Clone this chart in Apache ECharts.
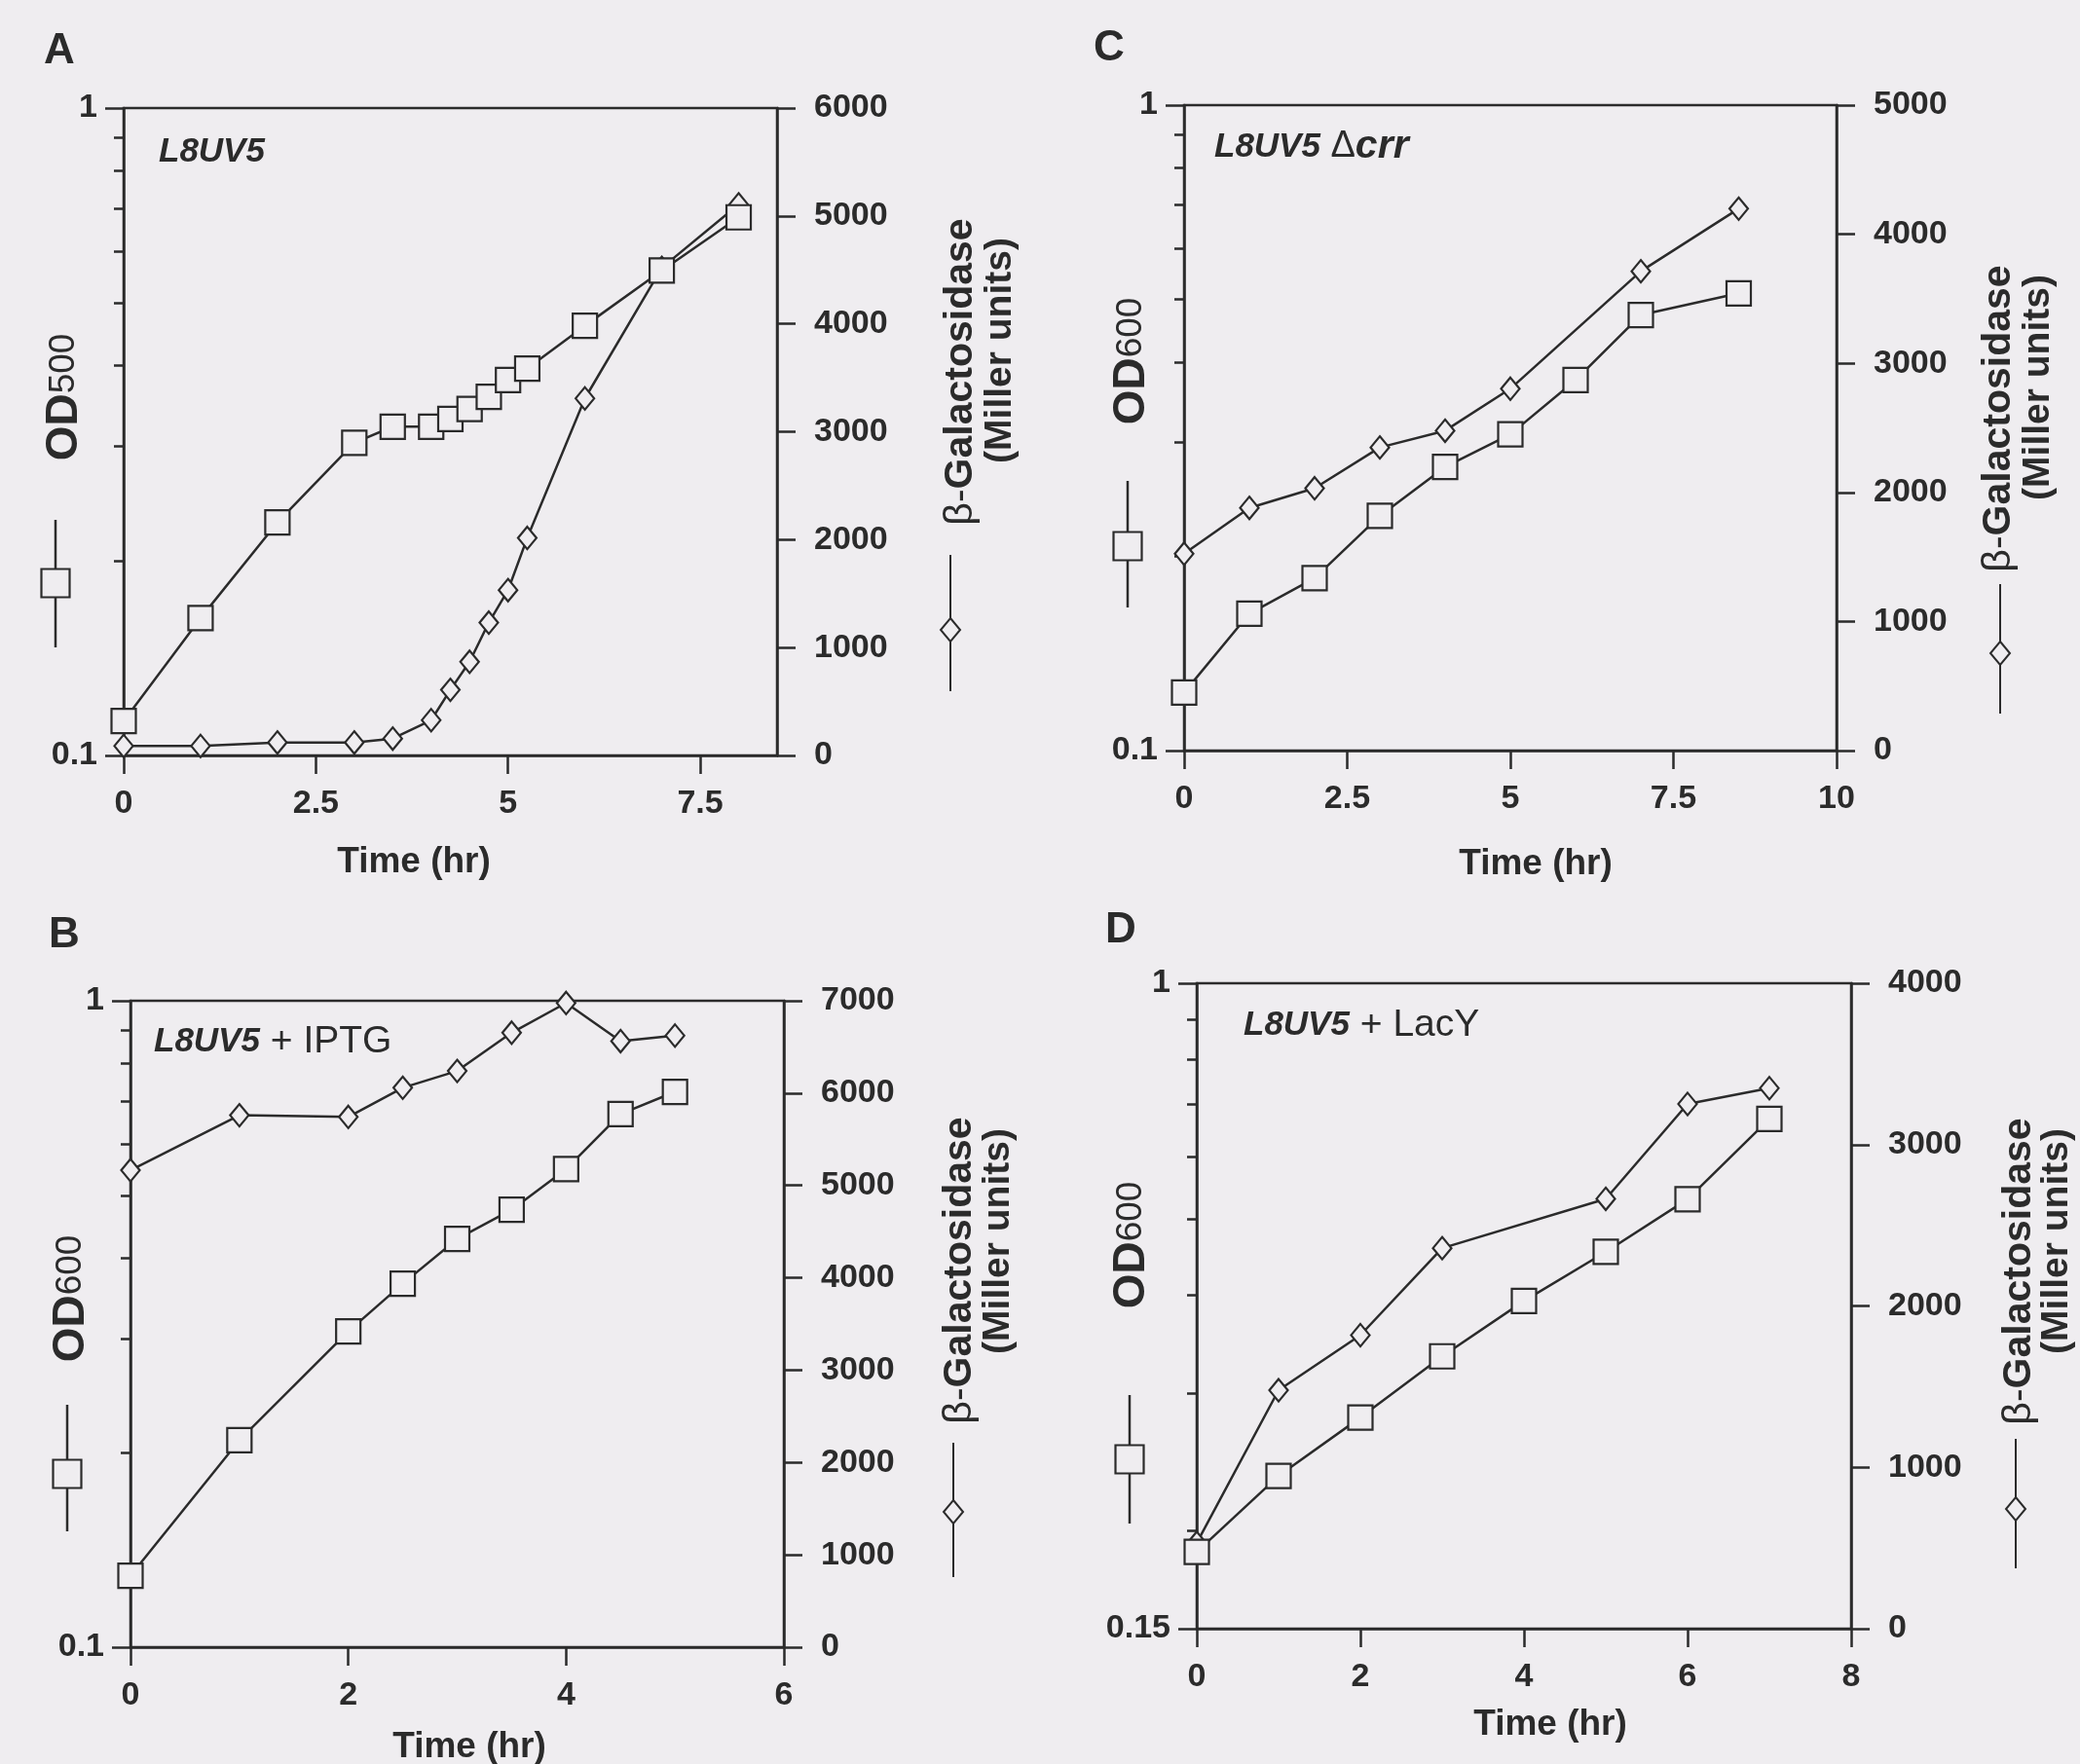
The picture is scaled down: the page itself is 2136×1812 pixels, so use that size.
<!DOCTYPE html>
<html>
<head>
<meta charset="utf-8">
<title>L8UV5 growth and beta-galactosidase</title>
<script src="https://cdn.jsdelivr.net/npm/echarts@6/dist/echarts.min.js"></script>
<style>
  html, body { margin: 0; padding: 0; background: #efedf0; }
  #chart { width: 2136px; height: 1812px; }
</style>
</head>
<body>
<div id="chart"></div>
<script>
// A: L8UV5
const timeA = [0, 1, 2, 3, 3.5, 4, 4.25, 4.5, 4.75, 5, 5.25, 6, 7, 8]
const odA = [0.113, 0.163, 0.229, 0.304, 0.322, 0.322, 0.331, 0.343, 0.358, 0.38, 0.396, 0.461, 0.561, 0.678]
const galA = [88, 88, 120, 120, 156, 327, 608, 868, 1231, 1532, 2016, 3309, 4519, 5107]

// B: L8UV5 + IPTG
const timeB = [0, 1, 2, 2.5, 3, 3.5, 4, 4.5, 5]
const odB = [0.129, 0.209, 0.308, 0.365, 0.428, 0.475, 0.549, 0.668, 0.723]
const galB = [5165, 5760, 5742, 6058, 6240, 6654, 6976, 6563, 6623]

// C: L8UV5 delta crr
const timeCod = [0, 1, 2, 3, 4, 5, 6, 7, 8.5]
const odC = [0.123, 0.163, 0.185, 0.231, 0.275, 0.309, 0.375, 0.473, 0.511]
const timeCgal = [0, 1, 2, 3, 4, 5, 7, 8.5]
const galC = [1525, 1880, 2032, 2348, 2478, 2803, 3713, 4198]

// D: L8UV5 + LacY
const timeDod = [0, 1, 2, 3, 4, 5, 6, 7]
const odD = [0.188, 0.235, 0.279, 0.334, 0.393, 0.454, 0.53, 0.671]
const timeDgal = [0, 1, 2, 3, 5, 6, 7]
const galD = [532, 1478, 1819, 2358, 2664, 3252, 3350]

// axis ticks
const xTicksA = [0, 2.5, 5, 7.5]
const odMinorTicks = [0.2, 0.3, 0.4, 0.5, 0.6, 0.7, 0.8, 0.9]

const INK = '#2b2b2b'
const BG = '#efedf0'
const FONT = '"Liberation Sans", Arial, Helvetica, sans-serif'

function pairs(xs, ys) {
  return xs.map((x, i) => [x, ys[i]])
}

// one entry per panel: grid box, axis ranges and the data
const panels = [
  { grid: { left: 127, top: 111, width: 671, height: 665 }, xMax: 8.5, xInterval: 2.5, xCustom: xTicksA,
    odMin: 0.1, galMax: 6000, od: pairs(timeA, odA), gal: pairs(timeA, galA) },
  { grid: { left: 134, top: 1028, width: 671, height: 664 }, xMax: 6, xInterval: 2,
    odMin: 0.1, galMax: 7000, od: pairs(timeB, odB), gal: pairs(timeB, galB) },
  { grid: { left: 1216, top: 108, width: 670, height: 663 }, xMax: 10, xInterval: 2.5,
    odMin: 0.1, galMax: 5000, od: pairs(timeCod, odC), gal: pairs(timeCgal, galC) },
  { grid: { left: 1229, top: 1010, width: 672, height: 663 }, xMax: 8, xInterval: 2,
    odMin: 0.15, galMax: 4000, od: pairs(timeDod, odD), gal: pairs(timeDgal, galD) },
]

const lineW = 2.5
const tickLabel = { color: INK, fontSize: 34, fontWeight: 'bold', fontFamily: FONT }

const grid = []
const xAxis = []
const yAxis = []
const series = []

panels.forEach((p, i) => {
  grid.push(Object.assign({
    show: true, borderColor: INK, borderWidth: lineW, backgroundColor: BG, containLabel: false,
    outerBoundsMode: 'none',
  }, p.grid))

  const xTick = { length: 19, lineStyle: { color: INK, width: lineW } }
  const xLabel = Object.assign({ margin: 33 }, tickLabel)
  if (p.xCustom) {
    xTick.customValues = p.xCustom
    xLabel.customValues = p.xCustom
  }
  xAxis.push({
    gridIndex: i, type: 'value', min: 0, max: p.xMax, interval: p.xInterval,
    axisLine: { onZero: false, lineStyle: { color: INK, width: lineW } },
    axisTick: xTick, axisLabel: xLabel, splitLine: { show: false },
  })

  // left: OD on log scale
  yAxis.push({
    gridIndex: i, type: 'log', logBase: 10, min: p.odMin, max: 1, position: 'left',
    axisLine: { show: true, lineStyle: { color: INK, width: lineW } },
    axisTick: { show: true, length: 19, lineStyle: { color: INK, width: lineW } },
    axisLabel: Object.assign({ margin: 27, formatter: v => String(+(+v).toPrecision(2)) }, tickLabel),
    splitLine: { show: false }, minorTick: { show: false },
  })
  // right: beta-galactosidase
  yAxis.push({
    gridIndex: i, type: 'value', min: 0, max: p.galMax, interval: 1000, position: 'right',
    axisLine: { show: true, lineStyle: { color: INK, width: lineW } },
    axisTick: { show: true, length: 19, lineStyle: { color: INK, width: lineW } },
    axisLabel: Object.assign({ margin: 38, formatter: v => String(v) }, tickLabel),
    splitLine: { show: false },
  })
  // left again, only the short log ticks at 0.2 ... 0.9
  yAxis.push({
    gridIndex: i, type: 'value', min: Math.log10(p.odMin), max: 0, position: 'left',
    axisLine: { show: false }, axisLabel: { show: false }, splitLine: { show: false },
    axisTick: {
      show: true, length: 10, lineStyle: { color: INK, width: 2.5 },
      customValues: odMinorTicks.filter(v => v > p.odMin).map(v => Math.log10(v)),
    },
  })

  series.push({
    type: 'line', xAxisIndex: i, yAxisIndex: i * 3 + 1, data: p.gal,
    symbol: 'diamond', symbolSize: [19, 23], showSymbol: true,
    lineStyle: { color: INK, width: lineW },
    itemStyle: { color: BG, borderColor: INK, borderWidth: 2.2 },
    z: 3,
  })
  series.push({
    type: 'line', xAxisIndex: i, yAxisIndex: i * 3, data: p.od,
    symbol: 'rect', symbolSize: 25, showSymbol: true,
    lineStyle: { color: INK, width: lineW },
    itemStyle: { color: BG, borderColor: INK, borderWidth: 2.2 },
    z: 4,
  })
})

// texts and the little symbol keys beside the axis titles
function text(x, y, str, size, extra) {
  return {
    type: 'text', x: x, y: y, rotation: (extra && extra.rotation) || 0, z: 10,
    style: Object.assign({
      text: str, fill: INK, fontSize: size, fontWeight: 'bold', fontFamily: FONT,
      align: 'center', verticalAlign: 'middle',
    }, extra && extra.style),
  }
}

function squareKey(x, y1, y2, cy) {
  const s = 29
  return {
    type: 'group', z: 10, children: [
      { type: 'line', shape: { x1: x, y1: y1, x2: x, y2: y2 }, style: { stroke: INK, lineWidth: lineW } },
      { type: 'rect', shape: { x: x - s / 2, y: cy - s / 2, width: s, height: s }, style: { fill: BG, stroke: INK, lineWidth: 2.2 } },
    ],
  }
}

function diamondKey(x, y1, y2, cy) {
  const w = 10, h = 12
  return {
    type: 'group', z: 10, children: [
      { type: 'line', shape: { x1: x, y1: y1, x2: x, y2: y2 }, style: { stroke: INK, lineWidth: 2 } },
      { type: 'polygon', shape: { points: [[x, cy - h], [x + w, cy], [x, cy + h], [x - w, cy]] }, style: { fill: BG, stroke: INK, lineWidth: 2 } },
    ],
  }
}

const ROT = Math.PI / 2
const odRich = {
  a: { fontSize: 46, fontWeight: 'bold', fontFamily: FONT, fill: INK },
  b: { fontSize: 37, fontWeight: 'normal', fontFamily: FONT, fill: INK },
}
const galRich = {
  a: { fontSize: 41, fontWeight: 'normal', fontFamily: FONT, fill: INK },
  b: { fontSize: 41, fontWeight: 'bold', fontFamily: FONT, fill: INK },
}
const noteRich = {
  i: { fontSize: 35, fontWeight: 'bold', fontStyle: 'italic', fontFamily: FONT, fill: INK },
  n: { fontSize: 39, fontWeight: 'normal', fontFamily: FONT, fill: INK },
  d: { fontSize: 38, fontWeight: 'normal', fontFamily: FONT, fill: INK },
  c: { fontSize: 41, fontWeight: 'bold', fontStyle: 'italic', fontFamily: FONT, fill: INK },
}

const titles = [
  { letter: ['A', 61, 53], note: [163, 156, '{i|L8UV5}'], od: [66, 408, '{a|OD}{b|500}'],
    sq: [57, 534, 665, 599], time: [425, 886], g1: [987, 382], g2: [1027, 360], dm: [976, 570, 710, 647] },
  { letter: ['B', 66, 961], note: [158, 1070, '{i|L8UV5}{n| + IPTG}'], od: [73, 1334, '{a|OD}{b|600}'],
    sq: [69, 1443, 1573, 1514], time: [482, 1795], g1: [986, 1305], g2: [1025, 1275], dm: [979, 1482, 1620, 1553] },
  { letter: ['C', 1139, 50], note: [1247, 151, '{i|L8UV5}{d| Δ}{c|crr}'], od: [1162, 371, '{a|OD}{b|600}'],
    sq: [1158, 494, 624, 561], time: [1577, 888], g1: [2053, 430], g2: [2093, 398], dm: [2054, 600, 733, 671] },
  { letter: ['D', 1151, 956], note: [1277, 1053, '{i|L8UV5}{n| + LacY}'], od: [1162, 1279, '{a|OD}{b|600}'],
    sq: [1160, 1433, 1565, 1499], time: [1592, 1772], g1: [2074, 1306], g2: [2112, 1275], dm: [2070, 1478, 1611, 1550] },
]

const graphic = []
titles.forEach(t => {
  graphic.push(text(t.letter[1], t.letter[2], t.letter[0], 44))
  graphic.push(text(t.note[0], t.note[1], t.note[2], 35, { style: { align: 'left', rich: noteRich } }))
  graphic.push(text(t.od[0], t.od[1], t.od[2], 46, { rotation: ROT, style: { rich: odRich } }))
  graphic.push(squareKey(t.sq[0], t.sq[1], t.sq[2], t.sq[3]))
  graphic.push(text(t.time[0], t.time[1], 'Time (hr)', 37))
  graphic.push(text(t.g1[0], t.g1[1], '{a|β-}{b|Galactosidase}', 41, { rotation: ROT, style: { rich: galRich } }))
  graphic.push(text(t.g2[0], t.g2[1], '(Miller units)', 39, { rotation: ROT }))
  graphic.push(diamondKey(t.dm[0], t.dm[1], t.dm[2], t.dm[3]))
})

const chart = echarts.init(document.getElementById('chart'))
const options = {
  backgroundColor: BG,
  animation: false,
  grid: grid,
  xAxis: xAxis,
  yAxis: yAxis,
  series: series,
  graphic: graphic,
}
chart.setOption(options)
</script>
</body>
</html>
